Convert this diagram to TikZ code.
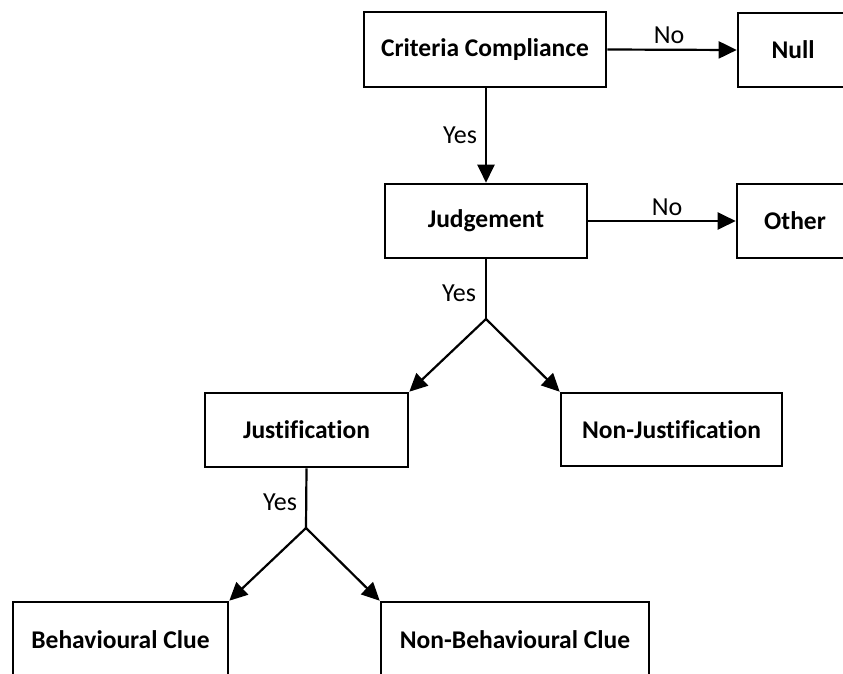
\documentclass[tikz,border=0pt]{standalone}
\usepackage{fontspec}
\setmainfont[Ligatures=NoCommon]{Carlito}
\usetikzlibrary{arrows.meta}
\begin{document}
\begin{tikzpicture}[x=1pt,y=-1pt,
  box/.style={draw=black, line width=2.6pt, fill=white, inner sep=0pt, font=\fontsize{25.5}{30}\selectfont\bfseries, align=center},
  conn/.style={line width=2.2pt, -{Triangle[length=18pt,width=17pt]}},
  plain/.style={line width=2.2pt},
  lbl/.style={font=\fontsize{26}{30}\selectfont, inner sep=0pt}]
\useasboundingbox (0,0) rectangle (843,673);
\node[box, minimum width=242pt, minimum height=75pt] (cc) at (485,49.5) {Criteria Compliance};
\node[box, minimum width=110pt, minimum height=74pt] (null) at (793,50) {Null};
\node[box, minimum width=202pt, minimum height=74pt] (jud) at (486,221) {Judgement};
\node[box, minimum width=116pt, minimum height=74pt] (oth) at (795,221) {Other};
\node[box, minimum width=203pt, minimum height=74pt] (jus) at (306.5,430) {Justification};
\node[box, minimum width=221pt, minimum height=73pt] (njus) at (671.5,429.5) {Non-Justification};
\node[box, minimum width=215pt, minimum height=75pt] (beh) at (120.5,639.5) {Behavioural Clue};
\node[box, minimum width=268pt, minimum height=75pt] (nbeh) at (515,639.5) {Non-Behavioural Clue};
\coordinate (j1) at (486,319);
\coordinate (j2) at (306,528);
\draw[conn] (cc.east) -- (null.west);
\node[lbl] (no1) at (669,35) {No};
\draw[conn] (cc.south -| jud.north) -- (jud.north);
\node[lbl] (yes1) at (460,135) {Yes};
\draw[conn] (jud.east) -- (oth.west);
\node[lbl] (no2) at (667,207) {No};
\draw[plain] (jud.south) -- (j1);
\node[lbl] (yes2) at (459,293) {Yes};
\draw[conn] (j1) -- (jus.north east);
\draw[conn] (j1) -- (njus.north west);
\draw[plain] (jus.south) -- (j2);
\node[lbl] (yes3) at (280,502) {Yes};
\draw[conn] (j2) -- (beh.north east);
\draw[conn] (j2) -- (nbeh.north west);
\end{tikzpicture}
\end{document}
